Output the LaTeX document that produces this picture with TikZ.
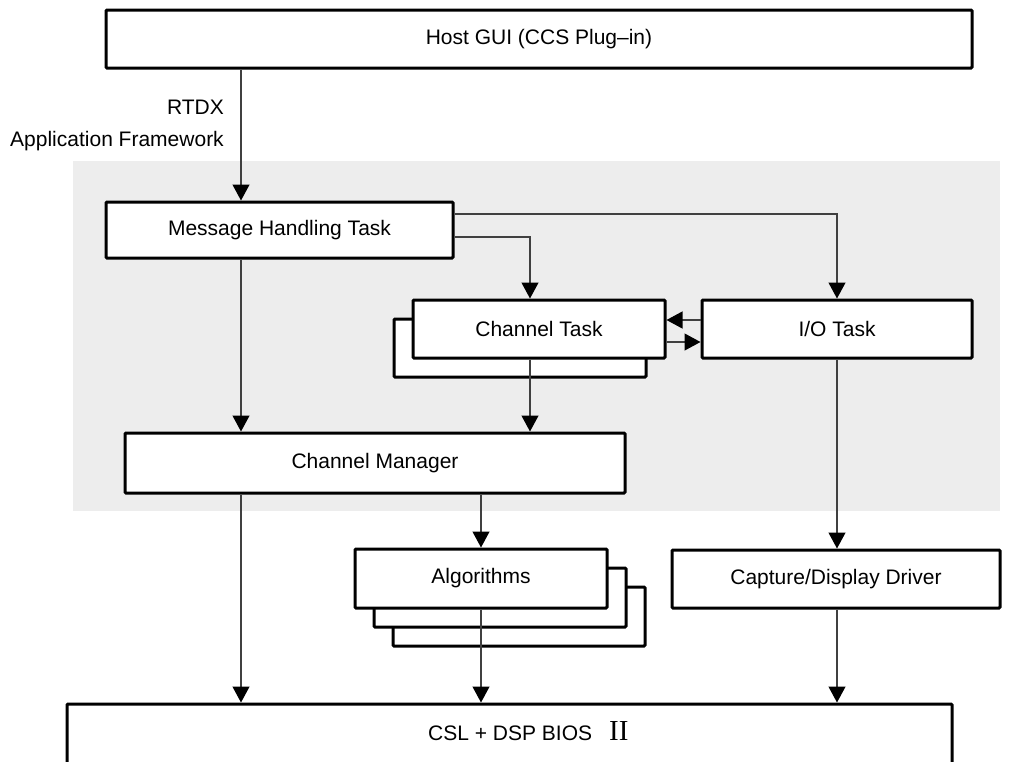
\documentclass[tikz,border=0pt]{standalone}
\usepackage{fontspec}
\setmainfont{Liberation Sans}
\newfontfamily\romanII{Liberation Serif}
\usetikzlibrary{arrows.meta}
\definecolor{panel}{HTML}{EDEDED}
\definecolor{wire}{HTML}{404040}
\begin{document}
\begin{tikzpicture}[x=1pt,y=-1pt,
  txt/.style={font=\fontsize{21}{25}\selectfont},
  box/.style={txt, draw=black, line width=3pt, fill=white, rounded corners=1pt, inner sep=0pt},
  link/.style={draw=wire, line width=1.2pt},
  conn/.style={link, -{Triangle[width=17pt,length=16pt,color=black]}},
  lbl/.style={txt, inner sep=0pt}]
\clip (0,0) rectangle (1009,761);
\fill[white] (0,0) rectangle (1009,761);

% shaded application framework region
\fill[panel] (73,161) rectangle (1000,511);

% column and row helpers for the connectors
\coordinate (colA) at (241,0);
\coordinate (colB) at (530,0);
\coordinate (colC) at (481,0);
\coordinate (colD) at (837,0);
\coordinate (rowA) at (0,214);
\coordinate (rowB) at (0,237);
\coordinate (rowC) at (0,320);
\coordinate (rowD) at (0,342);

% boxes
\node[box, minimum width=866pt, minimum height=58pt] (host) at (539,39) {Host GUI (CCS Plug--in)};
\node[box, minimum width=347pt, minimum height=56pt] (mht) at (279.5,230) {Message Handling Task};

\node[box, minimum width=252pt, minimum height=58pt] (ctback) at (520,348) {};
\node[box, minimum width=252pt, minimum height=58pt] (ct) at (539,329) {Channel Task};
\node[box, minimum width=270pt, minimum height=58pt] (io) at (837,329) {I/O Task};

\node[box, minimum width=500pt, minimum height=60pt] (cm) at (375,463) {Channel Manager};

\node[box, minimum width=252pt, minimum height=59pt] (algc) at (519,616.5) {};
\node[box, minimum width=252pt, minimum height=59pt] (algb) at (500,597.5) {};
\node[box, minimum width=252pt, minimum height=59pt] (alg) at (481,578.5) {Algorithms};

\node[box, minimum width=328pt, minimum height=58pt] (cap) at (836,579) {Capture/Display Driver};

\node[box, minimum width=885pt, minimum height=80pt] (csl) at (509.5,744) {};
\node[lbl, anchor=west] (csltext) at (428,731) {CSL + DSP BIOS\hspace{17pt}{\romanII\fontsize{29}{30}\selectfont II}};

% labels beside the host link
\node[lbl, anchor=east] (rtdx) at (224,107) {RTDX};
\node[lbl, anchor=east] (appfw) at (224,141) {Application Framework};

% connectors
\draw[conn] (colA |- host.south) -- (colA |- mht.north);
\draw[conn] (colA |- mht.south) -- (colA |- cm.north);
\draw[conn] (mht.east |- rowA) -- (colD |- rowA) -- (colD |- io.north);
\draw[conn] (mht.east |- rowB) -- (colB |- rowB) -- (colB |- ct.north);
\draw[conn] (colB |- ct.south) -- (colB |- cm.north);
\draw[conn] (io.west |- rowC) -- (ct.east |- rowC);
\draw[conn] (ct.east |- rowD) -- (io.west |- rowD);
\draw[conn] (colD |- io.south) -- (colD |- cap.north);
\draw[conn] (colC |- cm.south) -- (colC |- alg.north);
\draw[conn] (colA |- cm.south) -- (colA |- csl.north);
\draw[conn] (colC |- alg.south) -- (colC |- csl.north);
\draw[conn] (colD |- cap.south) -- (colD |- csl.north);
\end{tikzpicture}
\end{document}
